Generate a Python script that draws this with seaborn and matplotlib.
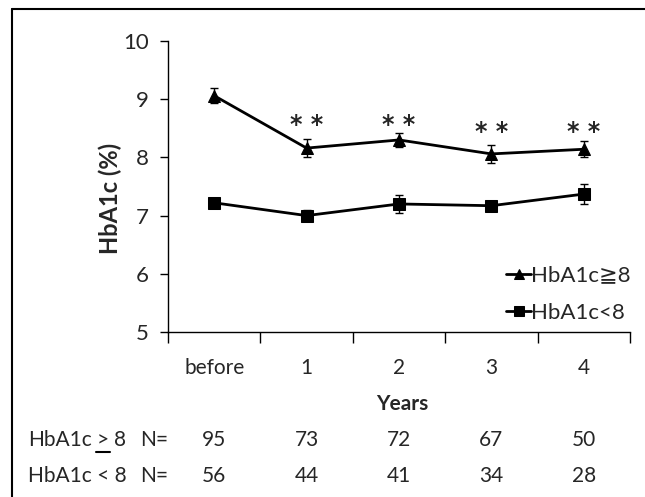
"""HbA1c over years, two groups, with N table below."""

import numpy as np
import pandas as pd
import matplotlib

matplotlib.use("Agg")
import matplotlib.pyplot as plt
import matplotlib.transforms as mtransforms
from matplotlib.lines import Line2D
import seaborn as sns

categories = ["before", "1", "2", "3", "4"]
high_mean = [9.06, 8.16, 8.30, 8.06, 8.14]
high_err = [0.13, 0.16, 0.12, 0.15, 0.14]
low_mean = [7.22, 7.00, 7.20, 7.17, 7.37]
low_err = [0.05, 0.10, 0.15, 0.08, 0.17]
star_y = [8.68, 8.68, 8.56, 8.56]
n_high = [95, 73, 72, 67, 50]
n_low = [56, 44, 41, 34, 28]

sns.set_style("white")
plt.rcParams["font.family"] = ["Lato", "DejaVu Sans"]

pos = np.arange(len(categories))
df = pd.DataFrame({
    "x": np.concatenate([pos, pos]),
    "y": high_mean + low_mean,
    "group": ["HbA1c≧8"] * 5 + ["HbA1c<8"] * 5,
})

fig = plt.figure(figsize=(6.45, 4.97), dpi=100)
ax = fig.add_axes([168 / 645, 1 - 332 / 497, (630 - 168) / 645, (332 - 41) / 497])

sns.lineplot(data=df, x="x", y="y", hue="group", style="group",
             palette=["black", "black"], markers=["^", "s"], dashes=False,
             markersize=9, linewidth=2, markeredgecolor="black", ax=ax)
ax.errorbar(pos, high_mean, yerr=high_err, fmt="none", ecolor="black",
            elinewidth=1, capsize=3, capthick=1)
ax.errorbar(pos, low_mean, yerr=low_err, fmt="none", ecolor="black",
            elinewidth=1, capsize=3, capthick=1)

# significance marks (visual centre at star_y)
for x, y in zip(pos[1:], star_y):
    ax.annotate("* *", (x, y), xytext=(0, -10), textcoords="offset points",
                ha="center", va="baseline", fontsize=17, fontweight="bold",
                family="DejaVu Sans")

ax.set_xlim(-0.5, 4.5)
ax.set_ylim(5, 10)
ax.set_yticks([5, 6, 7, 8, 9, 10])
ax.tick_params(axis="y", direction="out", length=6, width=1, color="black",
               labelsize=16, pad=8, left=True)
ax.set_xticks(np.arange(-0.5, 5, 1))
ax.set_xticklabels([])
ax.tick_params(axis="x", which="major", direction="out", length=8, width=1,
               color="black", bottom=True)
ax.set_xticks(pos, minor=True)
ax.set_xticklabels(categories, minor=True)
ax.tick_params(axis="x", which="minor", length=0, labelsize=15, pad=19)

for side in ["top", "right"]:
    ax.spines[side].set_visible(False)
for side in ["left", "bottom"]:
    ax.spines[side].set_color("black")
    ax.spines[side].set_linewidth(1)

ax.set_xlabel("")
ax.set_ylabel("")
fig.text(110 / 645, 1 - 198 / 497, "HbA1c (%)", rotation=90, ha="center",
         va="center", fontsize=17, fontweight="bold")

handles, labels = ax.get_legend_handles_labels()
ax.legend(handles, labels, loc="lower right", bbox_to_anchor=(1.02, 0.0),
          borderaxespad=0, frameon=False, fontsize=16, handlelength=1.1,
          handletextpad=0.0, labelspacing=0.8, markerscale=0.8)

# Years label and N table
trans = mtransforms.blended_transform_factory(ax.transData, fig.transFigure)
fig.text(402 / 645, 1 - 404 / 497, "Years", ha="center", va="center",
         fontsize=15, fontweight="bold")
row_y = [1 - 440 / 497, 1 - 476 / 497]
fig.text(28 / 645, row_y[0], "HbA1c", ha="left", va="center", fontsize=15)
fig.text(103 / 645, row_y[0], ">", ha="center", va="center", fontsize=15)
fig.add_artist(Line2D([96 / 645, 110 / 645], [1 - 452 / 497] * 2,
                      color="black", linewidth=1.5))
fig.text(114 / 645, row_y[0], "8", ha="left", va="center", fontsize=15)
fig.text(28 / 645, row_y[1], "HbA1c < 8", ha="left", va="center", fontsize=15)
for y in row_y:
    fig.text(140 / 645, y, "N=", ha="left", va="center", fontsize=15)
for x, a, b in zip(pos, n_high, n_low):
    ax.text(x, row_y[0], str(a), transform=trans, ha="center", va="center",
            fontsize=15)
    ax.text(x, row_y[1], str(b), transform=trans, ha="center", va="center",
            fontsize=15)

# outer frame (top and left)
fig.add_artist(Line2D([12 / 645, 1], [1 - 9 / 497] * 2, color="black", linewidth=1.5))
fig.add_artist(Line2D([12 / 645] * 2, [0, 1 - 9 / 497], color="black", linewidth=1.5))

fig.savefig("out.png", dpi=100)
plt.close(fig)
